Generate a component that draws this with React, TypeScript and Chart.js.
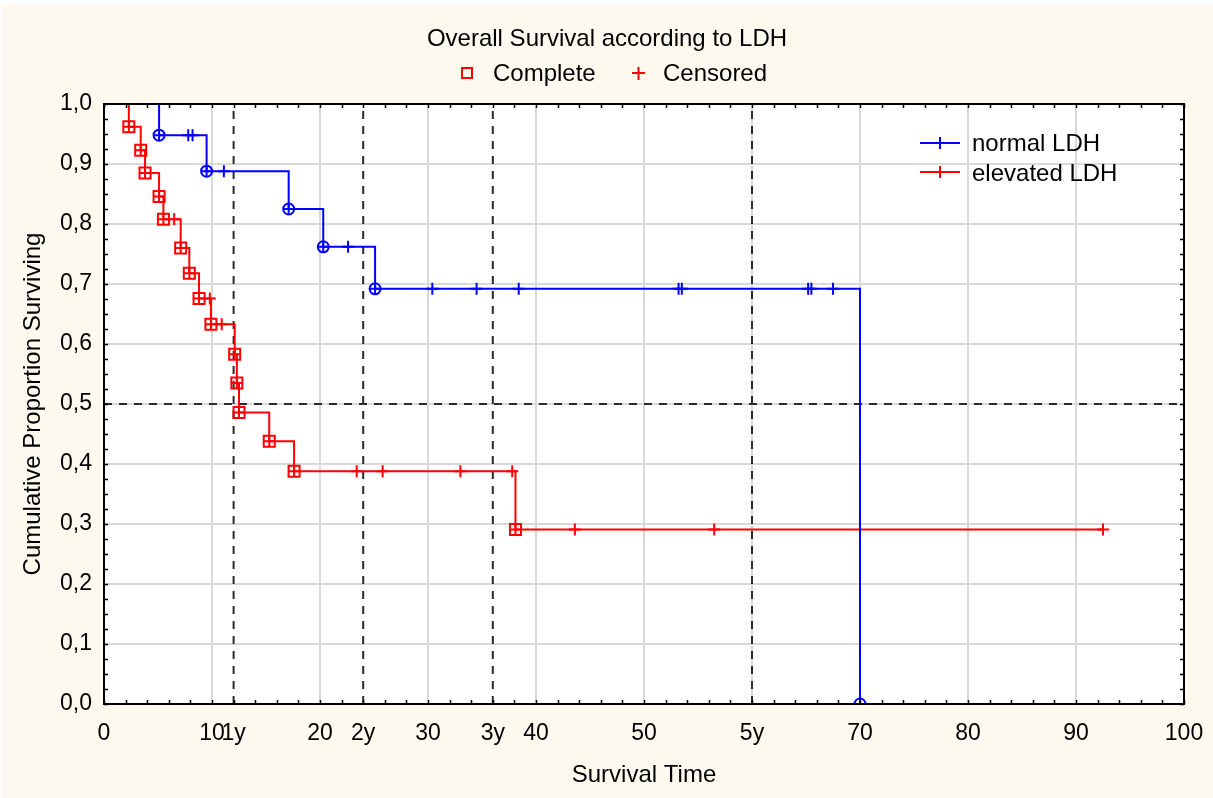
import React, { useEffect, useRef } from "react";
import { Chart, registerables } from "chart.js";

Chart.register(...registerables);

// ---------- text ----------
const chartTitle = "Overall Survival according to LDH";
const xAxisTitle = "Survival Time";
const yAxisTitle = "Cumulative Proportion Surviving";
const legendComplete = "Complete";
const legendCensored = "Censored";
const seriesNames = ["normal LDH", "elevated LDH"];

// ---------- axes ----------
const xTickValues = [0, 10, 12, 20, 24, 30, 36, 40, 50, 60, 70, 80, 90, 100];
const xTickLabels = ["0", "10", "1y", "20", "2y", "30", "3y", "40", "50", "5y", "70", "80", "90", "100"];
const yearMarks = [12, 24, 36, 60];
const medianLevel = 0.5;

// ---------- normal LDH (Kaplan-Meier) ----------
const normalEventTimes = [0, 5.1, 9.5, 17.1, 20.3, 25.1, 70.0];
const normalSurvival = [1, 0.948, 0.888, 0.825, 0.762, 0.692, 0];
const normalCensorTimes = [7.8, 8.2, 11.1, 22.6, 30.4, 34.5, 38.4, 53.2, 53.5, 65.2, 65.5, 67.5];

// ---------- elevated LDH (Kaplan-Meier) ----------
const elevatedEventTimes = [0, 2.3, 3.4, 3.8, 5.1, 5.5, 7.1, 7.9, 8.8, 9.9, 12.1, 12.3, 12.5, 15.3, 17.6, 38.1];
const elevatedSurvival = [1, 0.962, 0.923, 0.885, 0.846, 0.808, 0.76, 0.718, 0.676, 0.633, 0.583, 0.535, 0.486, 0.438, 0.388, 0.291];
const elevatedCensorTimes = [6.5, 9.8, 10.9, 23.4, 25.8, 33.0, 37.8, 43.6, 56.5, 92.5];

const BLUE = "#0000ff";
const RED = "#ff0000";
const FONT = '"Liberation Sans", Arial, sans-serif';

function survivalAt(times: number[], surv: number[], t: number) {
  let s = surv[0];
  for (let i = 0; i < times.length; i++) if (times[i] <= t) s = surv[i];
  return s;
}

function curvePoints(times: number[], surv: number[], censors: number[]) {
  const pts = times.map((t, i) => ({ x: t, y: surv[i] }));
  const lastT = times[times.length - 1];
  const maxC = Math.max(...censors);
  if (maxC > lastT) pts.push({ x: maxC, y: surv[surv.length - 1] });
  return pts;
}

function eventPoints(times: number[], surv: number[]) {
  return times.slice(1).map((t, i) => ({ x: t, y: surv[i + 1] }));
}

function censorPoints(times: number[], surv: number[], censors: number[]) {
  return censors.map((c) => ({ x: c, y: survivalAt(times, surv, c) }));
}

const decorPlugin = {
  id: "decor",
  beforeDraw(chart: any) {
    const { ctx, chartArea: a, width, height } = chart;
    ctx.save();
    ctx.fillStyle = "#ffffff";
    ctx.fillRect(0, 0, width, height);
    ctx.fillStyle = "#fdf9ef";
    ctx.fillRect(2, 5, width - 2, height - 5);
    ctx.fillStyle = "#ffffff";
    ctx.fillRect(a.left, a.top, a.right - a.left, a.bottom - a.top);
    ctx.restore();
  },
  afterDraw(chart: any) {
    const { ctx, chartArea: a, scales } = chart;
    const xs = scales.x;
    const ys = scales.y;
    ctx.save();
    // minor ticks (inward) on all four sides
    ctx.strokeStyle = "#000";
    ctx.lineWidth = 1.5;
    ctx.beginPath();
    for (let v = 0; v <= 100; v += 2) {
      const px = Math.round(xs.getPixelForValue(v)) + 0.5;
      ctx.moveTo(px, a.bottom);
      ctx.lineTo(px, a.bottom - 4);
      ctx.moveTo(px, a.top);
      ctx.lineTo(px, a.top + 4);
    }
    for (let i = 0; i <= 40; i++) {
      const py = Math.round(ys.getPixelForValue(i * 0.025)) + 0.5;
      ctx.moveTo(a.left, py);
      ctx.lineTo(a.left + 4, py);
      ctx.moveTo(a.right, py);
      ctx.lineTo(a.right - 4, py);
    }
    ctx.stroke();
    // frame
    ctx.lineWidth = 2;
    ctx.strokeRect(a.left, a.top, a.right - a.left, a.bottom - a.top);

    // title
    ctx.fillStyle = "#000";
    ctx.font = `24px ${FONT}`;
    ctx.textBaseline = "alphabetic";
    ctx.textAlign = "center";
    ctx.fillText(chartTitle, 607, 46);

    // top legend
    ctx.textAlign = "left";
    ctx.strokeStyle = RED;
    ctx.lineWidth = 2;
    ctx.strokeRect(462, 68, 10, 10);
    ctx.beginPath();
    ctx.moveTo(632, 73);
    ctx.lineTo(645, 73);
    ctx.moveTo(638.5, 67);
    ctx.lineTo(638.5, 80);
    ctx.stroke();
    ctx.fillText(legendComplete, 493, 81);
    ctx.fillText(legendCensored, 663, 81);

    // in-plot legend
    const rows = [
      { name: seriesNames[0], color: BLUE, y: 143, base: 151 },
      { name: seriesNames[1], color: RED, y: 172, base: 181 },
    ];
    rows.forEach((r) => {
      ctx.strokeStyle = r.color;
      ctx.lineWidth = 2;
      ctx.beginPath();
      ctx.moveTo(920, r.y);
      ctx.lineTo(960, r.y);
      ctx.moveTo(940, r.y - 6);
      ctx.lineTo(940, r.y + 6);
      ctx.stroke();
      ctx.fillStyle = "#000";
      ctx.fillText(r.name, 972, r.base);
    });
    ctx.restore();
  },
};

export default function App() {
  const ref = useRef<HTMLCanvasElement>(null);

  useEffect(() => {
    const markerBase = { showLine: false, borderWidth: 2, backgroundColor: "transparent", pointHoverRadius: 0 };
    const datasets: any[] = [
      { ...markerBase, data: eventPoints(normalEventTimes, normalSurvival), borderColor: BLUE, pointStyle: "cross", pointRadius: 5.5 },
      { ...markerBase, data: eventPoints(normalEventTimes, normalSurvival), borderColor: BLUE, pointStyle: "circle", pointRadius: 5.5 },
      { ...markerBase, data: eventPoints(elevatedEventTimes, elevatedSurvival), borderColor: RED, pointStyle: "cross", pointRadius: 5.5 },
      { ...markerBase, data: eventPoints(elevatedEventTimes, elevatedSurvival), borderColor: RED, pointStyle: "rect", pointRadius: 7.8 },
      { ...markerBase, data: censorPoints(normalEventTimes, normalSurvival, normalCensorTimes), borderColor: BLUE, pointStyle: "cross", pointRadius: 6 },
      { ...markerBase, data: censorPoints(elevatedEventTimes, elevatedSurvival, elevatedCensorTimes), borderColor: RED, pointStyle: "cross", pointRadius: 6 },
      { data: curvePoints(normalEventTimes, normalSurvival, normalCensorTimes), showLine: true, stepped: "before", borderColor: BLUE, borderWidth: 2, pointRadius: 0, fill: false },
      { data: curvePoints(elevatedEventTimes, elevatedSurvival, elevatedCensorTimes), showLine: true, stepped: "before", borderColor: RED, borderWidth: 2, pointRadius: 0, fill: false },
      ...yearMarks.map((m) => ({
        data: [{ x: m, y: 0 }, { x: m, y: 1 }],
        showLine: true, borderColor: "#2a2a2a", borderWidth: 2, borderDash: [8, 7], pointRadius: 0, fill: false,
      })),
      {
        data: [{ x: 0, y: medianLevel }, { x: 100, y: medianLevel }],
        showLine: true, borderColor: "#2a2a2a", borderWidth: 2, borderDash: [8, 7], pointRadius: 0, fill: false,
      },
    ];

    const chart = new Chart(ref.current as HTMLCanvasElement, {
      type: "scatter",
      data: { datasets },
      plugins: [decorPlugin],
      options: {
        animation: false,
        responsive: false,
        maintainAspectRatio: false,
        events: [],
        layout: { padding: { top: 104, right: 29, bottom: 0, left: 0 } },
        plugins: { legend: { display: false }, title: { display: false }, tooltip: { enabled: false } },
        scales: {
          x: {
            type: "linear",
            min: 0,
            max: 100,
            afterBuildTicks: (s: any) => {
              s.ticks = xTickValues.map((v) => ({ value: v }));
            },
            afterFit: (s: any) => {
              s.height = 94;
              s.paddingLeft = 0;
              s.paddingRight = 0;
            },
            ticks: {
              autoSkip: false,
              maxRotation: 0,
              minRotation: 0,
              padding: 16,
              color: "#000",
              font: { family: FONT, size: 23 },
              callback: (v: any) => {
                const i = xTickValues.indexOf(Number(v));
                return i >= 0 ? xTickLabels[i] : "";
              },
            },
            grid: {
              color: (c: any) => (c.tick && yearMarks.slice(0, 3).includes(c.tick.value) ? "rgba(0,0,0,0)" : "#d9d9d9"),
              lineWidth: 2,
              drawTicks: false,
            },
            border: { display: false },
            title: { display: true, text: xAxisTitle, color: "#000", font: { family: FONT, size: 24 }, padding: { top: 0, bottom: 8 } },
          },
          y: {
            type: "linear",
            min: 0,
            max: 1,
            afterFit: (s: any) => {
              s.width = 104;
              s.paddingTop = 0;
              s.paddingBottom = 0;
            },
            ticks: {
              stepSize: 0.1,
              padding: 12,
              color: "#000",
              font: { family: FONT, size: 23 },
              callback: (v: any) => Number(v).toFixed(1).replace(".", ","),
            },
            grid: { color: "#d9d9d9", lineWidth: 2, drawTicks: false },
            border: { display: false },
            title: { display: true, text: yAxisTitle, color: "#000", font: { family: FONT, size: 24 }, padding: { top: 19, bottom: 0 } },
          },
        },
      } as any,
    });
    return () => chart.destroy();
  }, []);

  return (
    <div style={{ position: "absolute", left: 0, top: 0, width: 1213, height: 798 }}>
      <canvas ref={ref} width={1213} height={798} style={{ display: "block", width: 1213, height: 798 }} />
    </div>
  );
}
